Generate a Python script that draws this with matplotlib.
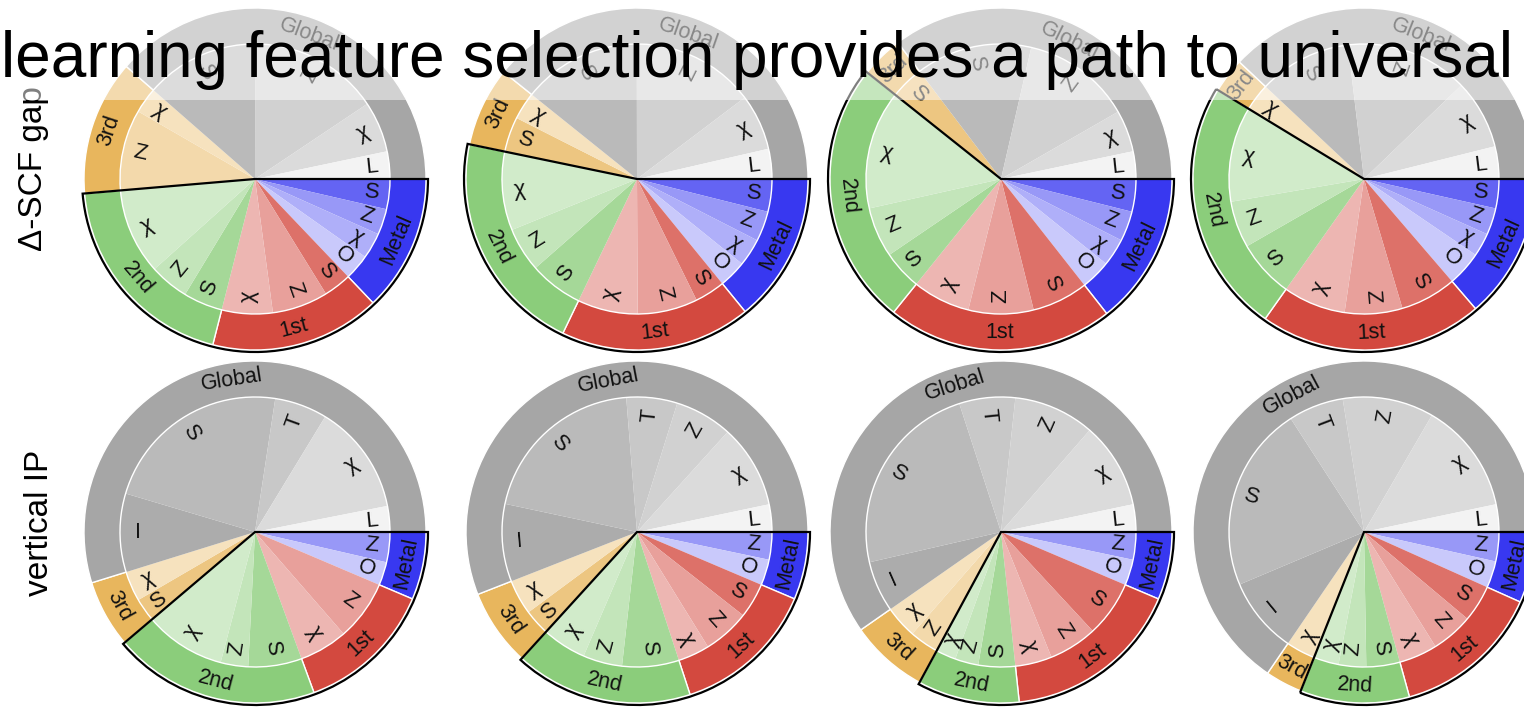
import numpy as np
import matplotlib.pyplot as plt
import matplotlib.colors as mcolors
from matplotlib.patches import Wedge, Rectangle

plt.rcParams['font.family'] = ['Liberation Sans', 'DejaVu Sans']

W, H = 1524, 707

groups = ["Metal", "1st", "2nd", "3rd", "Global"]
group_colors = ["#3838f0", "#d3493f", "#8bcd7b", "#e8b65d", "#a6a6a6"]
# lighter shade for the less important kinds of feature
feature_alpha = {"I": 0.93, "S": 0.78, "T": 0.62, "Z": 0.52, "χ": 0.40, "O": 0.27, "L": 0.14}

row_titles = ["Δ-SCF gap", "vertical IP"]

# feature importance (%) inside each group: Metal, 1st, 2nd, 3rd, Global
gap1_feats = [["S", "Z", "χ", "O"], ["S", "Z", "χ"], ["S", "Z", "χ"], ["Z", "χ"], ["S", "Z", "χ", "L"]]
gap1_vals = [[3.6, 3.1, 3.1, 3.1], [3.3, 6.7, 6.1], [4.7, 4.7, 10.3], [9.7, 3.1], [13.6, 15.6, 6.1, 3.3]]

gap2_feats = [["S", "Z", "χ", "O"], ["S", "Z", "χ"], ["S", "Z", "χ"], ["S", "χ"], ["S", "Z", "χ", "L"]]
gap2_vals = [[3.9, 3.6, 3.3, 3.3], [3.6, 7.2, 7.2], [6.4, 5.3, 9.4], [4.2, 3.3], [14.2, 14.7, 6.7, 3.6]]

gap3_feats = [["S", "Z", "χ", "O"], ["S", "Z", "χ"], ["S", "Z", "χ"], ["S"], ["S", "Z", "χ", "L"]]
gap3_vals = [[3.9, 3.6, 3.3, 3.6], [6.7, 7.8, 6.9], [4.7, 6.0, 14.2], [4.0], [13.9, 13.1, 5.0, 3.3]]

gap4_feats = [["S", "Z", "χ", "O"], ["S", "Z", "χ"], ["S", "Z", "χ"], ["χ"], ["S", "Z", "χ", "L"]]
gap4_vals = [[3.5, 3.2, 2.8, 4.2], [6.7, 6.9, 7.5], [6.9, 5.6, 11.4], [3.3], [11.1, 14.7, 8.3, 3.9]]

ip1_feats = [["Z", "O"], ["Z", "χ"], ["S", "Z", "χ"], ["S", "χ"], ["I", "S", "T", "χ", "L"]]
ip1_vals = [[3.6, 2.8], [7.2, 5.8], [6.4, 3.3, 9.7], [2.8, 3.6], [9.4, 22.8, 6.3, 13.2, 3.1]]

ip2_feats = [["Z", "O"], ["S", "Z", "χ"], ["S", "Z", "χ"], ["S", "χ"], ["I", "S", "T", "Z", "χ", "L"]]
ip2_vals = [[3.3, 3.1], [4.2, 5.6, 3.8], [6.8, 4.7, 5.3], [3.1, 4.2], [9.3, 20.4, 6.1, 6.9, 10.0, 3.3]]

ip3_feats = [["Z", "O"], ["S", "Z", "χ"], ["S", "Z", "χ"], ["Z", "χ"], ["I", "S", "T", "Z", "χ", "L"]]
ip3_vals = [[3.3, 3.1], [6.7, 5.8, 4.4], [4.4, 2.8, 2.4], [3.5, 3.9], [6.1, 23.6, 6.7, 9.7, 10.3, 3.3]]

ip4_feats = [["Z", "O"], ["S", "Z", "χ"], ["S", "Z", "χ"], ["χ"], ["I", "S", "T", "Z", "χ", "L"]]
ip4_vals = [[3.5, 3.2], [4.4, 5.0, 4.6], [4.0, 3.3, 3.0], [3.5], [9.1, 22.2, 6.6, 10.9, 13.3, 3.3]]

panels = [[(gap1_feats, gap1_vals), (gap2_feats, gap2_vals), (gap3_feats, gap3_vals), (gap4_feats, gap4_vals)],
          [(ip1_feats, ip1_vals), (ip2_feats, ip2_vals), (ip3_feats, ip3_vals), (ip4_feats, ip4_vals)]]

col_x = [255, 637, 1001, 1364]
row_y = [H - 179, H - 532]
R_IN, R_OUT = 135, 171


def shade(color, a):
    rgb = np.array(mcolors.to_rgb(color))
    return tuple(a * rgb + (1 - a))


def norm_rot(r):
    r = (r + 180) % 360 - 180
    if r > 90:
        r -= 180
    elif r <= -90:
        r += 180
    return r


def draw_panel(ax, cx, cy, feats, vals):
    sub_names = [f for fs in feats for f in fs]
    sub_vals = [v for vs in vals for v in vs]
    sub_cols = [shade(group_colors[g], feature_alpha[f]) for g, fs in enumerate(feats) for f in fs]
    group_vals = [sum(vs) for vs in vals]

    ax.pie(sub_vals, colors=sub_cols, radius=R_IN, center=(cx, cy), startangle=0,
           counterclock=False, wedgeprops=dict(linewidth=0))
    ax.pie(group_vals, colors=group_colors, radius=R_OUT, center=(cx, cy), startangle=0,
           counterclock=False, wedgeprops=dict(width=R_OUT - R_IN, edgecolor="white", linewidth=1.0))

    total = sum(sub_vals)
    edges = np.concatenate([[0], np.cumsum(sub_vals)]) / total * 360
    for name, a0, a1 in zip(sub_names, edges[:-1], edges[1:]):
        th = -(a0 + a1) / 2
        x = cx + 0.87 * R_IN * np.cos(np.radians(th))
        y = cy + 0.87 * R_IN * np.sin(np.radians(th))
        ax.text(x, y, name, fontsize=16, ha="center", va="center", rotation=norm_rot(th),
                rotation_mode="anchor", color="#111111", zorder=5)

    gedges = np.concatenate([[0], np.cumsum(group_vals)]) / total * 360
    for name, a0, a1 in zip(groups, gedges[:-1], gedges[1:]):
        th = -(a0 + a1) / 2
        r = (R_IN + R_OUT) / 2 + 1
        x = cx + r * np.cos(np.radians(th))
        y = cy + r * np.sin(np.radians(th))
        ax.text(x, y, name, fontsize=15.5, ha="center", va="center", rotation=norm_rot(th - 90),
                rotation_mode="anchor", color="#111111", zorder=5)

    # outline around the Metal, 1st and 2nd shells
    end = gedges[3]
    ax.add_patch(Wedge((cx, cy), R_OUT + 2, -end, 0, fill=False, edgecolor="black",
                       linewidth=1.6, zorder=4))


fig = plt.figure(figsize=(W / 100, H / 100), dpi=100)
ax = fig.add_axes([0, 0, 1, 1])

for i, row in enumerate(panels):
    for j, (feats, vals) in enumerate(row):
        draw_panel(ax, col_x[j], row_y[i], feats, vals)

ax.text(42, H - 169, row_titles[0], fontsize=24, rotation=90, rotation_mode="anchor",
        ha="center", va="baseline")
ax.text(48, H - 523, row_titles[1], fontsize=24, rotation=90, rotation_mode="anchor",
        ha="center", va="baseline")

ax.set_xlim(0, W)
ax.set_ylim(0, H)
ax.set_aspect("equal")
ax.axis("off")

# translucent strip behind the heading
fig.add_artist(Rectangle((0, 1 - 100 / H), 1, 100 / H, transform=fig.transFigure,
                         facecolor="white", edgecolor="none", alpha=0.5, zorder=2))
fig.text(1 / W, 1 - 77 / H, "learning feature selection provides a path to universal",
         fontsize=46, ha="left", va="baseline", zorder=3)

fig.savefig("out.png", dpi=100)
